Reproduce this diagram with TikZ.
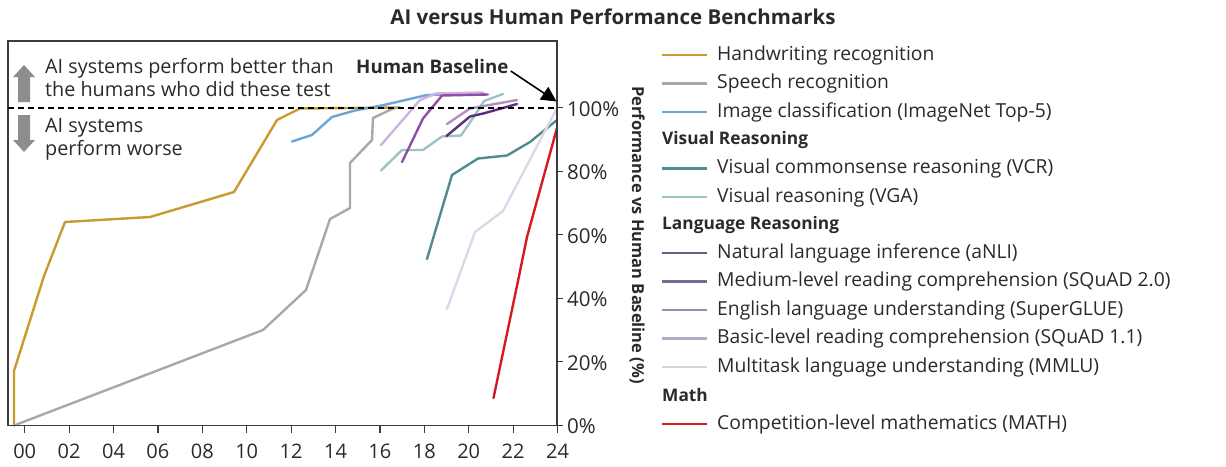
\documentclass[tikz,border=0pt]{standalone}
\usepackage{fontspec}
\setmainfont{Open Sans}[Ligatures=NoCommon]
\usetikzlibrary{arrows.meta}
\definecolor{cHand}{HTML}{C99A2E}
\definecolor{cSpeech}{HTML}{A8A8A8}
\definecolor{cImg}{HTML}{6BA5D6}
\definecolor{cVCR}{HTML}{4E8C8D}
\definecolor{cVGA}{HTML}{9CC4C4}
\definecolor{cNLI}{HTML}{5C2E7B}
\definecolor{cSQ2}{HTML}{8E4FA7}
\definecolor{cGLUE}{HTML}{B28DC9}
\definecolor{cSQ1}{HTML}{D0B2DD}
\definecolor{cMMLU}{HTML}{E3D4EA}
\definecolor{cMath}{HTML}{D71A21}
\definecolor{cAxis}{HTML}{3C3C3C}
\definecolor{cTxt}{HTML}{2A2A2A}
\definecolor{cArr}{HTML}{8D8D90}
\definecolor{lgNLI}{HTML}{6A5A86}
\definecolor{lgSQ2}{HTML}{7A6A96}
\definecolor{lgGLUE}{HTML}{978AAE}
\definecolor{lgSQ1}{HTML}{B4ABC6}
\definecolor{lgMMLU}{HTML}{D6D2E0}
\begin{document}
\begin{tikzpicture}[x=1pt,y=-1pt,
  every node/.style={text=cTxt,inner sep=0pt,font=\fontsize{19.3}{23}\selectfont},
  curve/.style={line width=2.4pt,line join=round,line cap=round},
  axisline/.style={draw=cAxis,line width=1.2pt},
  legline/.style={line width=2.2pt},
  legtext/.style={anchor=west},
  leghead/.style={anchor=west,font=\fontsize{17.3}{23}\selectfont\bfseries},
  blockarrow/.style={fill=cArr,draw=none}]
\useasboundingbox (0,0) rectangle (1226,466);
% title
\node[font=\fontsize{20.5}{24}\selectfont\bfseries] (title) at (613,17) {AI versus Human Performance Benchmarks};
% curves
\draw[curve,cHand] (14,425) -- (14,371) -- (44,276) -- (65,222) -- (150,217) -- (234,192) -- (277,120) -- (300,108.5) -- (400,107.5);
\draw[curve,cSpeech] (14,425.5) -- (263,330) -- (306,290) -- (330,219) -- (350,208) -- (350,163) -- (372,140) -- (373,118) -- (393,108.5) -- (400,107.5);
\draw[curve,cImg] (292,141.5) -- (312,135) -- (332,117) -- (355,110.5) -- (384,105) -- (427,95) -- (484,93.5);
\draw[curve,cVGA] (381,170.5) -- (402,150) -- (423,150) -- (442,136.5) -- (461,135.5) -- (473,118) -- (484,101) -- (503,94);
\draw[curve,cVCR] (427,259) -- (452,175) -- (478,158.5) -- (507,155.5) -- (530,142) -- (557,120);
\draw[curve,cSQ1] (381,145) -- (420,100) -- (436,93.5) -- (483,92.5);
\draw[curve,cMMLU] (447,309) -- (475,232) -- (503,211) -- (535,150) -- (557,108);
\draw[curve,cSQ2] (402,162) -- (423,118.5) -- (442,95.5) -- (488,94.5);
\draw[curve,cGLUE] (447,124) -- (470,108.5) -- (517,100);
\draw[curve,cNLI] (446.5,136) -- (470,116.5) -- (484,113.3) -- (517,104);
\draw[curve,cMath] (493.5,398) -- (518,281) -- (527,237) -- (557,128);
% frame and axes
\draw[axisline] (8,41) rectangle (557,425.2);
\foreach \yr/\lab in {0/00,2/02,4/04,6/06,8/08,10/10,12/12,14/14,16/16,18/18,20/20,22/22,24/24}{
  \draw[axisline] ({24.7+22.2*\yr},425.2) -- ({24.7+22.2*\yr},433);
  \node[font=\fontsize{20}{23}\selectfont] (xt\yr) at ({24.7+22.2*\yr},451.5) {\lab};
}
\foreach \k in {0,1,2,3,4,5}{
  \draw[axisline] (557,{425.2-63.5*\k}) -- (563,{425.2-63.5*\k});
  \node[anchor=west,font=\fontsize{20.5}{23}\selectfont] (yt\k) at (567,{425.2-63.5*\k+1}) {\the\numexpr 20*\k\relax\%};
}
\node[rotate=-90,font=\fontsize{16.5}{20}\selectfont\bfseries] (ylab) at (637,235) {Performance vs Human Baseline (\%)};
% baseline
\draw[black,line width=2pt,dash pattern=on 6pt off 4pt] (8,107.5) -- (557,107.5);
\node[font=\fontsize{18.7}{22}\selectfont\bfseries,anchor=west] (hb) at (356,66) {Human Baseline};
\coordinate (hbtip) at (556.5,101.5);
\draw[black,line width=1.6pt,-{Triangle[length=15pt,width=15pt]}] (hb.east) ++(2,5) -- (hbtip);
% block arrows
\fill[blockarrow] (24,65) -- (35,77) -- (30,77) -- (30,102) -- (18,102) -- (18,77) -- (13,77) -- cycle;
\fill[blockarrow] (24,152) -- (35,140) -- (30,140) -- (30,115) -- (18,115) -- (18,140) -- (13,140) -- cycle;
\node[anchor=west,align=left,font=\fontsize{19.8}{23}\selectfont] (better) at (45,77.5) {AI systems perform better than\\the humans who did these test};
\node[anchor=west,align=left,font=\fontsize{19.8}{23}\selectfont] (worse) at (45,139.5) {AI systems\\perform worse};
% legend
\foreach \c/\y/\t/\n in {
  cHand/55/Handwriting recognition/l1,
  cSpeech/83.5/Speech recognition/l2,
  cImg/112/Image classification (ImageNet Top-5)/l3,
  cVCR/168.5/Visual commonsense reasoning (VCR)/l4,
  cVGA/197/Visual reasoning (VGA)/l5,
  lgNLI/253/Natural language inference (aNLI)/l6,
  lgSQ2/281.5/Medium-level reading comprehension (SQuAD 2.0)/l7,
  lgGLUE/310/English language understanding (SuperGLUE)/l8,
  lgSQ1/338.5/Basic-level reading comprehension (SQuAD 1.1)/l9,
  lgMMLU/367/Multitask language understanding (MMLU)/l10,
  cMath/424/Competition-level mathematics (MATH)/l11}{
  \draw[legline,\c] (662,\y) -- (707,\y);
  \node[legtext] (\n) at (717,\y) {\t};
}
\node[leghead] (hVis) at (662,140) {Visual Reasoning};
\node[leghead] (hLang) at (662,225.5) {Language Reasoning};
\node[leghead] (hMath) at (662,395.5) {Math};
\end{tikzpicture}
\end{document}
